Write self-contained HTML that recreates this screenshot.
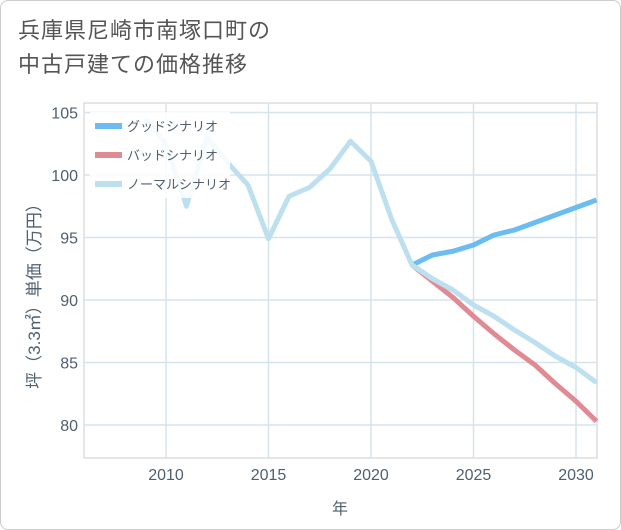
<!DOCTYPE html>
<html><head><meta charset="utf-8"><style>
body{margin:0;background:#fff;}
#wrap{position:relative;width:619px;height:528px;background:#fff;border:1px solid #ccc;border-radius:8px;font-family:"Liberation Sans","Noto Sans CJK JP",sans-serif;}
#title{position:absolute;left:17px;top:13px;font-size:22px;color:#555;line-height:34px;letter-spacing:1px;}
svg text{font-family:"Liberation Sans","Noto Sans CJK JP",sans-serif;}
</style></head><body>
<div id="wrap">
<div id="title">兵庫県尼崎市南塚口町の<br>中古戸建ての価格推移</div>
<svg id="chart" width="621" height="530" style="position:absolute;left:-1px;top:-1px"></svg>
</div>
<script>
const xTicks=[2010,2015,2020,2025,2030];
const yTicks=[80,85,90,95,100,105];
const normalYears=[2009,2010,2011,2012,2013,2014,2015,2016,2017,2018,2019,2020,2021,2022,2023,2024,2025,2026,2027,2028,2029,2030,2031];
const normalVals=[104.5,102.5,97.5,103,101,99.2,94.9,98.3,99,100.5,102.7,101.1,96.5,92.8,91.7,90.8,89.6,88.7,87.6,86.6,85.5,84.6,83.4];
const futureYears=[2022,2023,2024,2025,2026,2027,2028,2029,2030,2031];
const goodVals=[92.8,93.6,93.9,94.4,95.2,95.6,96.2,96.8,97.4,98.0];
const badVals=[92.8,91.5,90.2,88.7,87.3,86.0,84.8,83.3,81.9,80.3];
const seriesNames=["グッドシナリオ","バッドシナリオ","ノーマルシナリオ"];
const colors=["#6bbcf0","#e08a94","#bde0ef"];

const L=84,R=597,T=103,B=458;
const xs=y=>166+(y-2010)*20.5;
const ys=v=>175-(v-100)*12.5;
const svg=document.getElementById('chart');
const NS='http://www.w3.org/2000/svg';
const txtColor='#4f6070';
function mk(tag,attrs){const e=document.createElementNS(NS,tag);for(const k in attrs)e.setAttribute(k,attrs[k]);svg.appendChild(e);return e;}

const frame=mk('rect',{x:L,y:T,width:R-L,height:B-T,fill:'#fff',stroke:'#ccc','stroke-width':1});


xTicks.forEach(t=>{
  const g=mk('line',{x1:xs(t),x2:xs(t),y1:T,y2:B,stroke:'#d5e3ec','stroke-width':1.5});
  
  
  const tx=mk('text',{x:xs(t),y:B+22,'text-anchor':'middle','font-size':16,fill:txtColor});
  tx.textContent=t;
  
  
});
yTicks.forEach(t=>{
  const g=mk('line',{x1:L,x2:R,y1:ys(t),y2:ys(t),stroke:'#d5e3ec','stroke-width':1.5});
  
  
  const tx=mk('text',{x:L-6,y:ys(t)+6,'text-anchor':'end','font-size':16,fill:txtColor});
  tx.textContent=t;
  
  
});
const xt=mk('text',{x:340,y:514,'text-anchor':'middle','font-size':16,fill:txtColor});
xt.textContent='年';


const yt=mk('text',{x:0,y:0,'text-anchor':'middle','font-size':17,fill:txtColor,transform:'translate(40,292) rotate(-90)'});
yt.textContent='坪（3.3㎡）単価（万円）';



function line(years,vals,color,name){
  const p=mk('polyline',{points:years.map((y,i)=>xs(y)+','+ys(vals[i])).join(' '),fill:'none',stroke:color,'stroke-width':5,'stroke-linejoin':'round'});
  
  
}
line(futureYears,badVals,colors[1],'bad-scenario-line');
line(futureYears,goodVals,colors[0],'good-scenario-line');
line(normalYears,normalVals,colors[2],'normal-scenario-line');

const lb=mk('rect',{x:90,y:112,width:140,height:86,fill:'#fff','fill-opacity':0.85});


seriesNames.forEach((n,i)=>{
  const y=126+i*29;
  const s=mk('line',{x1:95,x2:122,y1:y,y2:y,stroke:colors[i],'stroke-width':6});
  
  
  const t=mk('text',{x:127,y:y+5,'font-size':13,fill:txtColor});
  t.textContent=n;
  
  
});
</script>
</body></html>
